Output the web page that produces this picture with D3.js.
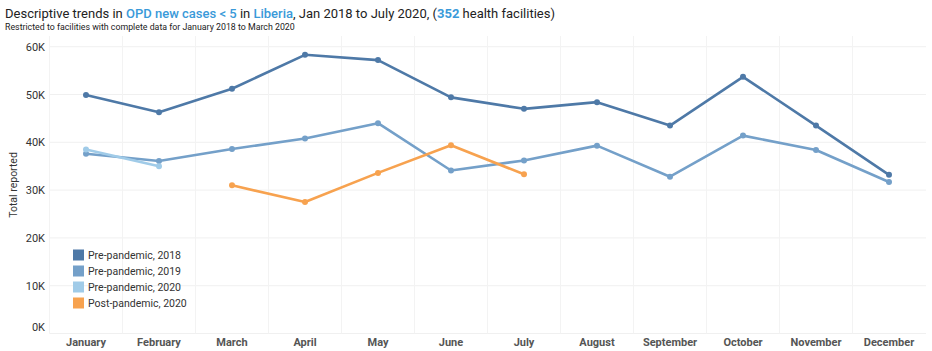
<!DOCTYPE html>
<html><head><meta charset="utf-8">
<script src="https://cdn.jsdelivr.net/npm/d3@7"></script>
<style>body{margin:0;background:#fff;font-family:Roboto,"Noto Sans",sans-serif;}</style>
</head><body><svg id="c" width="932" height="351"></svg>
<script>
const months = ["January","February","March","April","May","June","July","August","September","October","November","December"];
const yTicks = [0,10000,20000,30000,40000,50000,60000];
const seriesNames = ["Pre-pandemic, 2018","Pre-pandemic, 2019","Pre-pandemic, 2020","Post-pandemic, 2020"];
const seriesColors = ["#4e79a7","#74a0c9","#a0cbe8","#f7a24f"];
const pre2018 = [49900,46300,51200,58300,57200,49400,47000,48400,43500,53700,43500,33200];
const pre2019 = [37600,36100,38600,40800,44000,34100,36200,39300,32800,41400,38400,31700];
const pre2020 = [38500,35000,null,null,null,null,null,null,null,null,null,null];
const post2020 = [null,null,31000,27500,33600,39400,33300,null,null,null,null,null];
const seriesValues = [pre2018,pre2019,pre2020,post2020];

const svg = d3.select("#c");
const x = d3.scaleBand().domain(months).range([49.5,925.5]);
const y = d3.scaleLinear().domain([0,60000]).range([333.5,46.7]);

// title
const t = svg.append("text").attr("x",5).attr("y",18).style("font-size","13px").attr("fill","#222");
[["Descriptive trends in ",null],["OPD new cases < 5","#3a9ad9",500],[" in ",null],["Liberia","#3a9ad9",500],[", Jan 2018 to July 2020, (",null],["352","#3a9ad9","bold"],[" health facilities)",null]]
.forEach(([s,c,b])=>{const ts=t.append("tspan").text(s); if(c) ts.attr("fill",c); if(b) ts.style("font-weight",b);});
svg.append("text").attr("x",5).attr("y",29.5).style("font-size","8.8px").attr("fill","#222")
  .text("Restricted to facilities with complete data for January 2018 to March 2020");

// gridlines
const g = svg.append("g");
g.selectAll(".hg").data(yTicks).join("line")
  .attr("x1",49.5).attr("x2",926).attr("y1",d=>y(d)).attr("y2",d=>y(d))
  .attr("stroke","#f0f0f0").attr("stroke-width",1);
g.selectAll(".vg").data(months).join("line")
  .attr("x1",d=>x(d)).attr("x2",d=>x(d)).attr("y1",36).attr("y2",333.5)
  .attr("stroke","#f3f3f3").attr("stroke-width",1);

// y axis
const ya = svg.append("g").attr("transform","translate(45,0)")
  .call(d3.axisLeft(y).tickValues(yTicks).tickSize(0).tickFormat(d=>d3.format("d")(d/1000)+"K"));
ya.select(".domain").remove();
ya.selectAll("text").attr("fill","#333").style("font-size","11px").style("font-family","Roboto,sans-serif")
  .attr("dy",d=>d===0?"-0.3em":"0.32em").attr("x",0);
svg.append("text").attr("transform","translate(17,185) rotate(-90)").attr("text-anchor","middle")
  .style("font-size","10.5px").attr("fill","#333").text("Total reported");

// x axis
const xa = svg.append("g").attr("transform","translate(0,336)")
  .call(d3.axisBottom(x).tickSize(0));
xa.select(".domain").remove();
xa.selectAll("text").attr("fill","#555").style("font-size","11px").style("font-weight","bold")
  .style("font-family","Roboto,sans-serif").attr("dy","0.95em").attr("y",0);

// lines
const line = d3.line().defined(d=>d.v!=null).x(d=>x(d.m)+x.bandwidth()/2).y(d=>y(d.v));
seriesValues.forEach((vals,i)=>{
  const data = vals.map((v,j)=>({m:months[j],v}));
  svg.append("path").datum(data).attr("d",line).attr("fill","none")
    .attr("stroke",seriesColors[i]).attr("stroke-width",2.6).attr("stroke-linejoin","round");
  svg.append("g").selectAll("circle").data(data.filter(d=>d.v!=null)).join("circle")
    .attr("cx",d=>x(d.m)+x.bandwidth()/2).attr("cy",d=>y(d.v)).attr("r",3).attr("fill",seriesColors[i]);
});

// legend
const lg = svg.append("g");
seriesNames.forEach((n,i)=>{
  lg.append("rect").attr("x",73).attr("y",249.5+i*16).attr("width",11).attr("height",11).attr("fill",seriesColors[i]);
  lg.append("text").attr("x",88).attr("y",259+i*16).style("font-size","10.5px").attr("fill","#333").text(n);
});
</script></body></html>
